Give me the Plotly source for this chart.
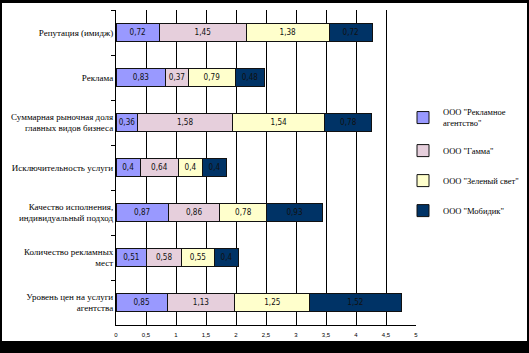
import plotly.graph_objects as go

categories = [
    "Репутация (имидж)",
    "Реклама",
    "Суммарная рыночная доля<br>главных видов бизнеса",
    "Исключительность услуги",
    "Качество исполнения,<br>индивидуальный подход",
    "Количество рекламных<br>мест",
    "Уровень цен на услуги<br>агентства",
]
series_names = [
    'ООО "Рекламное<br>агентство"',
    'ООО "Гамма"',
    'ООО "Зеленый свет"',
    'ООО "Мобидик"',
]
s_reklamnoe = [0.72, 0.83, 0.36, 0.40, 0.87, 0.51, 0.85]
s_gamma = [1.45, 0.37, 1.58, 0.64, 0.86, 0.58, 1.13]
s_zeleny = [1.38, 0.79, 1.54, 0.40, 0.78, 0.55, 1.25]
s_mobidik = [0.72, 0.48, 0.78, 0.40, 0.93, 0.40, 1.52]
x_ticks = [0, 0.5, 1, 1.5, 2, 2.5, 3, 3.5, 4, 4.5, 5]

series_values = [s_reklamnoe, s_gamma, s_zeleny, s_mobidik]
colors = ["#9999FF", "#E6CFDC", "#FFFFCC", "#003366"]

SERIF = "Liberation Serif"
SANS = "DejaVu Sans Condensed, Liberation Sans"

def fmt(v):
    return ("%g" % v).replace(".", ",")

fig = go.Figure()
for i, (name, vals, col) in enumerate(zip(series_names, series_values, colors)):
    fig.add_trace(go.Bar(
        y=categories, x=vals, name=name, orientation="h",
        marker=dict(color=col, line=dict(color="#111111", width=1)),
        text=[fmt(v) for v in vals], textposition="inside",
        insidetextanchor="middle", textangle=0,
        textfont=dict(family=SANS, size=9, color="#111111"),
        legendgroup="g%d" % i,
    ))

W, H = 529, 353
L, R, T, B = 116, 416, 10, 325
pw, ph = R - L, B - T

def px2paper_x(px):
    return (px - L) / pw

def px2paper_y(py):
    return (B - py) / ph

fig.update_layout(
    width=W, height=H,
    margin=dict(l=L, r=W - R, t=T, b=H - B, pad=0, autoexpand=False),
    barmode="stack", bargap=0.6,
    separators=", ",
    paper_bgcolor="black", plot_bgcolor="white",
    font=dict(family=SERIF, size=9, color="black"),
    uniformtext=dict(minsize=8, mode="show"),
    showlegend=True,
    legend=dict(
        x=px2paper_x(403), y=px2paper_y(100), xanchor="left", yanchor="top",
        font=dict(family=SERIF, size=8.5, color="black"),
        traceorder="grouped", tracegroupgap=11, bgcolor="rgba(0,0,0,0)",
        itemwidth=30,
    ),
    shapes=[dict(
        type="rect", xref="paper", yref="paper", layer="below",
        x0=px2paper_x(2), x1=px2paper_x(527), y0=px2paper_y(341), y1=px2paper_y(3),
        fillcolor="white", line=dict(width=0),
    )],
)
fig.update_xaxes(
    range=[0, 5], tickvals=x_ticks, showgrid=True, gridcolor="black", gridwidth=1,
    showline=True, linecolor="black", linewidth=1, zeroline=False, automargin=False,
    tickfont=dict(family="Liberation Sans", size=6, color="black"), ticks="", ticklabelstandoff=4,
)
fig.update_yaxes(
    autorange="reversed", showline=True, linecolor="black", linewidth=1, automargin=False,
    ticks="outside", tickson="boundaries", ticklen=4, tickcolor="black",
    tickfont=dict(family=SERIF, size=9, color="black"), showgrid=False,
)
fig.write_html("out.html")
